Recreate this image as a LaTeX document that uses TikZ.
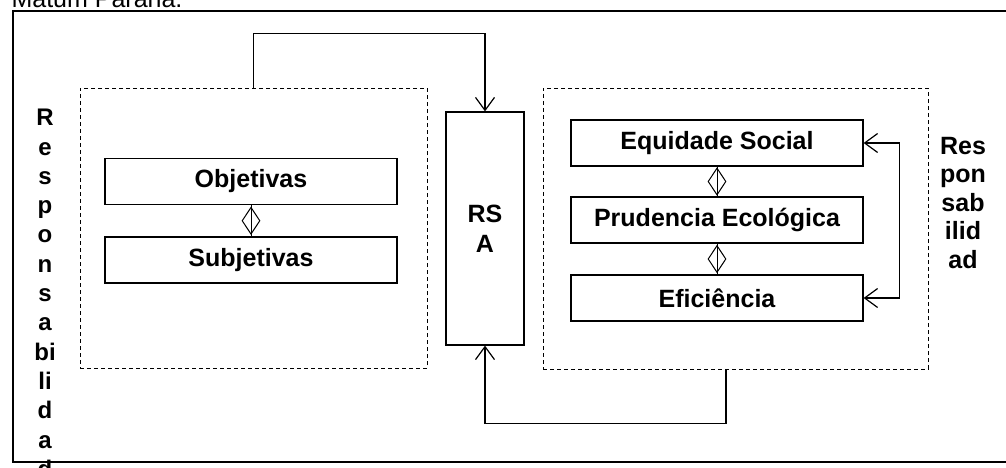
\documentclass[tikz,border=0pt]{standalone}
\usepackage{fontspec}
\setmainfont{Liberation Sans}
\usetikzlibrary{arrows.meta,shapes.geometric}

\begin{document}
\begin{tikzpicture}[x=1pt,y=-1pt,
    every node/.style={font=\fontsize{25}{30}\selectfont\bfseries},
    box/.style={draw,line width=1.2pt,minimum width=292pt,
        minimum height=46pt,inner sep=0pt},
    group/.style={draw,line width=0.9pt,dash pattern=on 4pt off 3pt,
        inner sep=0pt},
    link/.style={draw,diamond,line width=1pt,minimum width=18pt,
        minimum height=27pt,inner sep=0pt},
    >={Straight Barb[length=13pt,width=19pt]}]
\useasboundingbox (0,0) rectangle (1006,468);
% frame
\draw[line width=1.2pt] (1010,11) -- (13,11) -- (13,462) -- (1010,462);
\node[anchor=base west,font=\fontsize{25}{30}\selectfont] (src) at (8,7.5)
    {Matum Paraná.};

% groups
\node[group,minimum width=347pt,minimum height=280pt] (leftgrp) at (253.5,228) {};
\node[group,minimum width=385pt,minimum height=281pt] (rightgrp) at (735.5,228.5) {};
\node[draw,line width=1.2pt,minimum width=78pt,minimum height=233pt,
    inner sep=0pt,align=center,font=\fontsize{25}{30}\selectfont\bfseries]
    (rsa) at (485,228.5) {RS\\A};

% left side
\node[box] (obj) at (251,181.5) {Objetivas};
\node[box] (sub) at (251,260) {Subjetivas};
\draw[line width=1pt] (obj) -- (sub) node[midway,link] {};

% right side
\node[box] (eq) at (717,143) {Equidade Social};
\node[box] (pe) at (717,220) {Prudencia Ecológica};
\node[box] (ef) at (717,298) {Eficiência};
\draw[line width=1pt] (eq) -- (pe) node[midway,link] {};
\draw[line width=1pt] (pe) -- (ef) node[midway,link] {};
\draw[<->,line width=1.2pt] (eq.east) -- ++(36,0) |- (ef.east);

% labels
\node[anchor=north,align=center,inner sep=0pt,
    font=\fontsize{24}{29.3}\selectfont\bfseries] (lbl) at (45,109)
    {R\\e\\s\\p\\o\\n\\s\\a\\bi\\li\\d\\a\\d};
\node[anchor=north,align=center,inner sep=0pt,
    font=\fontsize{25}{28.5}\selectfont\bfseries] (lbr) at (963,137)
    {Res\\pon\\sab\\ilid\\ad};

% feedback
\draw[->,line width=1.2pt] (leftgrp.north) -- ++(0,-54) -| (rsa.north);
\draw[->,line width=1.2pt] ([xshift=-9.5pt]rightgrp.south) -- ++(0,54) -| (rsa.south);
\end{tikzpicture}
\end{document}
